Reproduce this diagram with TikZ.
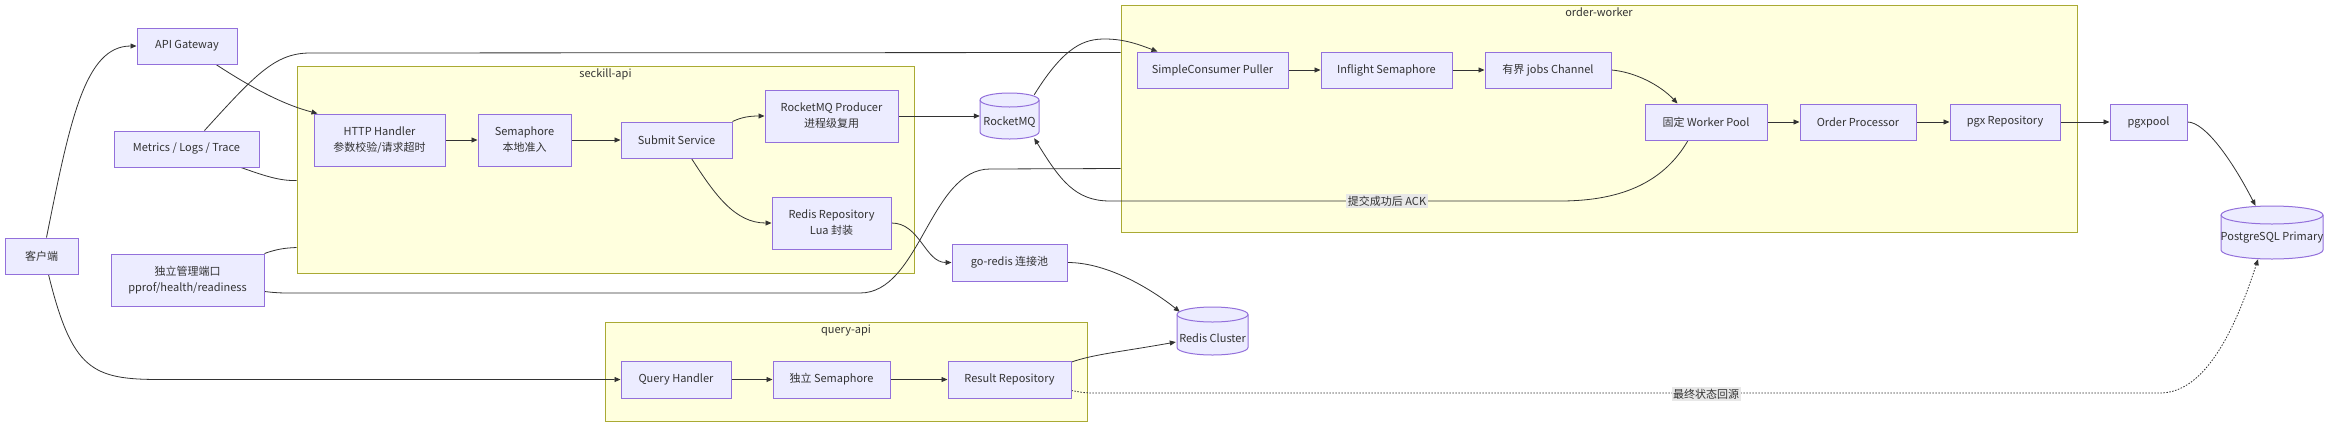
\documentclass[tikz,border=0pt]{standalone}
\usepackage{fontspec}
\newfontfamily\cjk{Noto Sans CJK SC}
\usetikzlibrary{arrows.meta,calc}
\definecolor{nodefill}{HTML}{ECECFF}
\definecolor{nodeborder}{HTML}{9370DB}
\definecolor{clfill}{HTML}{FFFFDE}
\definecolor{clborder}{HTML}{AAAA33}
\definecolor{edgec}{HTML}{333333}
\definecolor{txt}{HTML}{333333}
\definecolor{lblbg}{HTML}{E8E8E8}
\pgfdeclarelayer{bg}
\pgfdeclarelayer{mid}
\pgfsetlayers{bg,mid,main}
\newcommand{\low}[2]{\raisebox{-#1}[\height][\depth]{#2}}
\newcommand{\mycyl}[5]{%
  \filldraw[cylstyle] (#1-#3, #2-#4+#5) -- (#1-#3, #2+#4-#5)
    arc[start angle=180, end angle=0, x radius=#3, y radius=#5]
    -- (#1+#3, #2-#4+#5)
    arc[start angle=0, end angle=-180, x radius=#3, y radius=#5] -- cycle;
  \draw[cylstyle, fill=none] (#1-#3, #2-#4+#5)
    arc[start angle=180, end angle=0, x radius=#3, y radius=#5];
}
\tikzset{
  base/.style={font=\cjk\fontsize{11}{16}\selectfont, text=txt, align=center, inner sep=0pt},
  box/.style args={#1/#2}{base, draw=nodeborder, fill=nodefill, line width=1pt,
    minimum width=#1pt, minimum height=#2pt},
  cyln/.style args={#1/#2}{base, minimum width=#1pt, minimum height=#2pt},
  cylstyle/.style={draw=nodeborder, fill=nodefill, line width=1pt},
  cluster/.style={draw=clborder, fill=clfill, line width=1pt, inner sep=0pt},
  edge/.style={draw=edgec, line width=0.8pt, -{Triangle[length=6pt,width=5pt]}},
  link/.style={draw=edgec, line width=0.8pt},
  dots/.style={dash pattern=on 1.5pt off 1.5pt},
  elabel/.style={base, fill=lblbg, inner sep=1.5pt},
}
\begin{document}
\begin{tikzpicture}[x=1pt,y=-1pt]
\useasboundingbox (0,0) rectangle (2352,432);
\begin{pgfonlayer}{bg}
  \fill[white] (0,0) rectangle (2352,432);
  \node[cluster, minimum width=617pt, minimum height=207pt] (seckill) at (605.5,169.5) {};
  \node[cluster, minimum width=956pt, minimum height=227pt] (worker) at (1599,118.5) {};
  \node[cluster, minimum width=482pt, minimum height=99pt] (qapi) at (846,371.5) {};
  \node[base, anchor=north] (seckilllbl) at ($(seckill.north)+(0,3)$) {seckill-api};
  \node[base, anchor=north] (workerlbl) at ($(worker.north)+(0,3)$) {order-worker};
  \node[base, anchor=north] (qapilbl) at ($(qapi.north)+(0,3)$) {query-api};
\end{pgfonlayer}

% nodes
\node[box=73/36] (client) at (41.5,256) {客户端};
\node[box=100/36] (gw) at (187,46) {API Gateway};
\node[box=145/36] (met) at (186.5,149) {Metrics / Logs / Trace};
\node[box=153/52] (admin) at (187.5,280) {独立管理端口\\pprof/health/readiness};
\node[box=131/52] (http) at (379.5,140) {HTTP Handler\\参数校验/请求超时};
\node[box=93/52] (sem) at (524.5,140) {Semaphore\\本地准入};
\node[box=111/36] (submit) at (676.5,140) {Submit Service};
\node[box=133/52] (prod) at (831.5,116) {RocketMQ Producer\\进程级复用};
\node[box=119/52] (rrepo) at (831.5,223) {Redis Repository\\Lua 封装};
\mycyl{1009.5}{116}{29.5}{23}{7}
\node[cyln=59/46] (rmq) at (1009.5,116) {\low{6.5pt}{RocketMQ}};
\node[box=115/37] (goredis) at (1009.5,262.5) {go-redis 连接池};
\mycyl{1212.5}{331}{35.5}{24}{7.5}
\node[cyln=71/48] (rcluster) at (1212.5,331) {\low{7pt}{Redis Cluster}};
\node[box=151/36] (puller) at (1212.5,70) {SimpleConsumer Puller};
\node[box=131/36] (inflight) at (1386.5,70) {Inflight Semaphore};
\node[box=126/36] (jobs) at (1548,70) {有界 jobs Channel};
\node[box=122/36] (pool) at (1706,122) {固定 Worker Pool};
\node[box=116/36] (proc) at (1858,122) {Order Processor};
\node[box=110/36] (pgxrepo) at (2005,122) {pgx Repository};
\node[box=77/36] (pgxpool) at (2148.5,122) {pgxpool};
\mycyl{2272}{232.5}{51}{26.5}{9}
\node[cyln=102/53] (pg) at (2272,232.5) {\low{5.5pt}{PostgreSQL Primary}};
\node[box=110/37] (qh) at (676,379.5) {Query Handler};
\node[box=117/37] (qsem) at (831.5,379.5) {独立 Semaphore};
\node[box=123/37] (rres) at (1009.5,379.5) {Result Repository};

\begin{pgfonlayer}{mid}
  % client
  \draw[edge] ($(client.north)+(5,0)$) .. controls (70,120) and (85,46) .. (gw.west);
  \draw[edge] ($(client.south)+(7,0)$) .. controls (72,370) and (92,379.5) .. (160,379.5) -- (qh.west);
  \draw[edge] ($(gw.south)+(29,0)$) .. controls (255,90) and (285,105) .. ($(http.north west)+(4,0)$);
  % observability / admin links
  \draw[link] ($(met.north)+(18,0)$) .. controls (255,75) and (275,53) .. (310,53) -- ($(worker.north west)+(0,48)$);
  \draw[link] ($(met.south)+(54.5,0)$) .. controls (265,176) and (280,181) .. ($(seckill.north west)+(0,115)$);
  \draw[link] (admin.north east) .. controls (277,249) and (285,248) .. ($(seckill.north west)+(0,182)$);
  \draw[link] ($(admin.south east)+(0,-15)$) .. controls (278,293) .. (300,293) -- (860,293)
     .. controls (920,293) and (930,169) .. (990,169) -- ($(worker.north west)+(0,164)$);
  % seckill-api
  \draw[edge] (http) -- (sem);
  \draw[edge] (sem) -- (submit);
  \draw[edge] (submit.north east) .. controls (742,117) and (750,116) .. (prod.west);
  \draw[edge] ($(submit.south)+(15,0)$) .. controls (715,195) and (735,223) .. (rrepo.west);
  \draw[edge] (prod.east) -- (prod.east -| rmq.west);
  \draw[edge] (rrepo.east) .. controls (920,223) and (925,262.5) .. (goredis.west);
  \draw[edge] (goredis.east) .. controls (1110,262.5) and (1155,292) .. ($(rcluster.north west)+(3,5)$);
  % order-worker
  \draw[edge] ($(rmq.north east)+(-5,2)$) .. controls (1065,45) and (1085,39) .. (1105,39)
     .. controls (1125,39) and (1140,45) .. ($(puller.north west)+(21,0)$);
  \draw[edge] (puller) -- (inflight);
  \draw[edge] (inflight) -- (jobs);
  \draw[edge] (jobs.east) .. controls (1635,72) and (1660,85) .. ($(pool.north west)+(33,0)$);
  \draw[edge] (pool) -- (proc);
  \draw[edge] (proc) -- (pgxrepo);
  \draw[edge] (pgxrepo) -- (pgxpool);
  \draw[edge] (pgxpool.east) .. controls (2205,122) and (2232,160) .. ($(pg.north west)+(35,0)$);
  \draw[edge] ($(pool.south)+(-18,0)$) .. controls (1665,180) and (1625,201) .. (1560,201) -- (1110,201)
     .. controls (1075,201) and (1060,180) .. ($(rmq.south east)+(-5,-1)$);
  % query-api
  \draw[edge] (qh) -- (qsem);
  \draw[edge] (qsem) -- (rres);
  \draw[edge] ($(rres.north east)+(0,1.5)$) .. controls (1095,354) and (1120,352) .. ($(rcluster.west)+(-1,11)$);
  \draw[edge, dots] ($(rres.south east)+(0,-8)$) .. controls (1085,393) .. (1100,393) -- (2160,393)
     .. controls (2205,393) and (2235,330) .. ($(pg.south)+(-14,0)$);
\end{pgfonlayer}

\node[elabel] (acklbl) at (1387,201) {提交成功后 ACK};
\node[elabel] (finallbl) at (1706,394) {最终状态回源};
\end{tikzpicture}
\end{document}
